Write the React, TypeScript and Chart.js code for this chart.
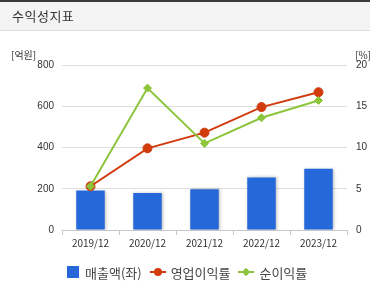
import React, { useEffect, useRef } from "react";
import { Chart, registerables } from "chart.js";

Chart.register(...registerables);

const categories = ["2019/12", "2020/12", "2021/12", "2022/12", "2023/12"];
const sales = [191, 179, 197, 255, 297];
const opMargin = [5.3, 9.9, 11.8, 14.9, 16.7];
const netMargin = [5.3, 17.2, 10.5, 13.6, 15.7];
const leftTicks = [0, 200, 400, 600, 800];
const rightTicks = [0, 5, 10, 15, 20];

const BLUE = "#2568d9";
const RED = "#d13b0e";
const GREEN = "#8cc43c";
const FONT = "'Noto Sans CJK KR', 'Liberation Sans', sans-serif";

const shadowPlugin = {
  id: "barShadow",
  beforeDatasetDraw(chart: any, args: any) {
    if (args.index === 0) {
      const ctx = chart.ctx;
      ctx.save();
      ctx.shadowColor = "rgba(0,0,0,0.25)";
      ctx.shadowBlur = 3;
      ctx.shadowOffsetX = 1;
      ctx.shadowOffsetY = 0;
    }
  },
  afterDatasetDraw(chart: any, args: any) {
    if (args.index === 0) chart.ctx.restore();
  },
};

export default function App() {
  const ref = useRef<HTMLCanvasElement>(null);
  useEffect(() => {
    const chart = new Chart(ref.current!, {
      type: "bar",
      data: {
        labels: categories,
        datasets: [
          {
            type: "bar",
            label: "매출액(좌)",
            data: sales,
            backgroundColor: BLUE,
            yAxisID: "y",
            barPercentage: 0.5,
            categoryPercentage: 1,
            order: 3,
          },
          {
            type: "line",
            label: "영업이익률",
            data: opMargin,
            borderColor: RED,
            backgroundColor: RED,
            borderWidth: 2,
            pointStyle: "circle",
            pointRadius: 4.5,
            pointBorderWidth: 1,
            pointBorderColor: RED,
            yAxisID: "y1",
            order: 2,
          },
          {
            type: "line",
            label: "순이익률",
            data: netMargin,
            borderColor: GREEN,
            backgroundColor: GREEN,
            borderWidth: 2,
            pointStyle: "rectRot",
            pointRadius: 4,
            pointBorderWidth: 1,
            pointBorderColor: GREEN,
            yAxisID: "y1",
            order: 1,
          },
        ] as any,
      },
      plugins: [shadowPlugin],
      options: {
        animation: false,
        responsive: false,
        maintainAspectRatio: false,
        layout: { padding: { top: 65, left: 0, right: 0, bottom: 0 } },
        plugins: { legend: { display: false }, tooltip: { enabled: false } },
        scales: {
          x: {
            offset: true,
            grid: {
              offset: true,
              drawOnChartArea: false,
              drawTicks: true,
              tickLength: 5,
              color: "#c8c8c8",
            },
            border: { display: true, color: "#c8c8c8" },
            ticks: { color: "#333", font: { family: FONT, size: 10 }, padding: 2 },
            afterFit(s: any) {
              s.height = 55;
            },
          },
          y: {
            position: "left",
            min: 0,
            max: 800,
            afterBuildTicks(s: any) {
              s.ticks = leftTicks.map((v) => ({ value: v }));
            },
            grid: { color: "#dedede", drawTicks: false },
            border: { display: false },
            ticks: { color: "#333", font: { family: "'Liberation Sans', sans-serif", size: 10 }, padding: 8 },
            afterFit(s: any) {
              s.width = 62;
            },
          },
          y1: {
            position: "right",
            min: 0,
            max: 20,
            afterBuildTicks(s: any) {
              s.ticks = rightTicks.map((v) => ({ value: v }));
            },
            grid: { display: false, drawTicks: false },
            border: { display: false },
            ticks: { color: "#333", font: { family: "'Liberation Sans', sans-serif", size: 10 }, padding: 9 },
            afterFit(s: any) {
              s.width = 23;
            },
          },
        },
      } as any,
    });
    return () => chart.destroy();
  }, []);

  const legendText: React.CSSProperties = {
    fontFamily: FONT,
    fontSize: 13,
    color: "#444",
  };

  return (
    <div
      style={{
        position: "absolute",
        left: 0,
        top: 0,
        width: 370,
        height: 285,
        background: "#fff",
        overflow: "hidden",
        fontFamily: FONT,
      }}
    >
      <canvas ref={ref} width={370} height={285} style={{ position: "absolute", left: 0, top: 0, width: 370, height: 285 }} />
      <div
        style={{
          position: "absolute",
          left: 0,
          top: 0,
          width: 370,
          height: 28,
          borderTop: "2px solid #3a3a3a",
          borderBottom: "1px solid #dcdcdc",
          background: "#f4f4f4",
        }}
      >
        <span
          style={{
            position: "absolute",
            left: 12,
            top: 5,
            fontSize: 13,
            letterSpacing: 0.5,
            color: "#333",
            lineHeight: "18px",
          }}
        >
          수익성지표
        </span>
      </div>
      <span style={{ position: "absolute", left: 11, top: 48, fontSize: 10, color: "#333", lineHeight: "14px" }}>[억원]</span>
      <span style={{ position: "absolute", left: 355, top: 48, fontSize: 10, color: "#333", lineHeight: "14px" }}>[%]</span>
      <div style={{ position: "absolute", left: 67, top: 263, height: 18, display: "flex", alignItems: "center" }}>
        <span style={{ width: 12, height: 12, background: BLUE, display: "inline-block", marginRight: 6 }} />
        <span style={{ ...legendText, marginRight: 8 }}>매출액(좌)</span>
        <span style={{ position: "relative", width: 16, height: 12, display: "inline-block", marginRight: 5 }}>
          <span style={{ position: "absolute", left: 0, top: 5, width: 16, height: 2, background: RED }} />
          <span style={{ position: "absolute", left: 4, top: 2, width: 8, height: 8, borderRadius: 4, background: RED }} />
        </span>
        <span style={{ ...legendText, marginRight: 8 }}>영업이익률</span>
        <span style={{ position: "relative", width: 16, height: 12, display: "inline-block", marginRight: 5 }}>
          <span style={{ position: "absolute", left: 0, top: 5, width: 16, height: 2, background: GREEN }} />
          <span style={{ position: "absolute", left: 5, top: 3, width: 6, height: 6, background: GREEN, transform: "rotate(45deg)" }} />
        </span>
        <span style={legendText}>순이익률</span>
      </div>
    </div>
  );
}
